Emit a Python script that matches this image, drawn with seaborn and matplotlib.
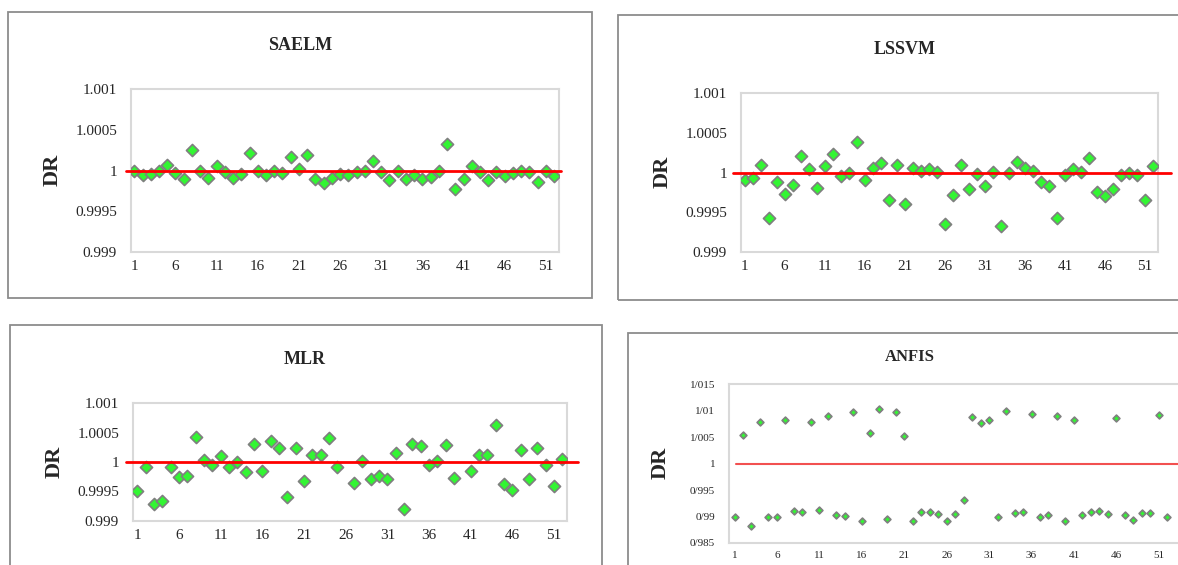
import numpy as np
import pandas as pd
import seaborn as sns
import matplotlib.pyplot as plt
from matplotlib.patches import Rectangle

# Datos (DR por muestra, 52 muestras)
samples = list(range(1, 53))

saelm = [1.0, 0.99995, 0.99996, 1.0, 1.00007, 0.99997, 0.9999, 1.00025, 1.0, 0.99991,
         1.00006, 0.99998, 0.99991, 0.99996, 1.00022, 1.0, 0.99994, 1.0, 0.99997, 1.00017,
         1.00002, 1.00019, 0.9999, 0.99985, 0.99991, 0.99996, 0.99995, 0.99998, 1.0, 1.00012,
         0.99998, 0.99988, 1.0, 0.9999, 0.99995, 0.99989, 0.99992, 1.0, 1.00033, 0.99977,
         0.9999, 1.00005, 0.99998, 0.99988, 0.99998, 0.99993, 0.99997, 0.99999, 0.99998, 0.99986,
         0.99999, 0.99993]

lssvm = [0.99991, 0.99993, 1.0001, 0.99943, 0.99988, 0.99973, 0.99984, 1.00021, 1.00005, 0.9998,
         1.00008, 1.00023, 0.99995, 1.0, 1.00038, 0.9999, 1.00006, 1.00012, 0.99966, 1.0001,
         0.99961, 1.00006, 1.00002, 1.00005, 1.00001, 0.99935, 0.99972, 1.0001, 0.99979, 0.99998,
         0.99983, 1.00001, 0.99933, 0.99999, 1.00013, 1.00006, 1.00002, 0.99988, 0.99983, 0.99943,
         0.99997, 1.00005, 1.00001, 1.00018, 0.99975, 0.99971, 0.99979, 0.99997, 1.0, 0.99997,
         0.99966, 1.00008]

mlr = [0.99951, 0.99991, 0.99929, 0.99934, 0.99992, 0.99974, 0.99977, 1.00042, 1.00004, 0.99995,
       1.00011, 0.99991, 1.0, 0.99983, 1.00031, 0.99985, 1.00035, 1.00024, 0.9994, 1.00023,
       0.99967, 1.00012, 1.00012, 1.0004, 0.99991, np.nan, 0.99965, 1.00001, 0.99972, 0.99977,
       0.99971, 1.00015, 0.9992, 1.0003, 1.00027, 0.99995, 1.00001, 1.00028, 0.99973, np.nan,
       0.99984, 1.00012, 1.00012, 1.00062, 0.99962, 0.99953, 1.0002, 0.99971, 1.00023, 0.99995,
       0.9996, 1.00005]

anfis = [0.98991, 1.00536, 0.9882, 1.00776, 0.98991, 0.98991, 1.00826, 0.99098, 0.99085, 1.00789,
         0.99129, 1.00896, 0.99022, 0.9901, 1.00978, 0.98915, 1.00568, 1.01028, 0.98959, 1.00965,
         1.00524, 0.98909, 0.99085, 0.99085, 0.99041, 0.98909, 0.99054, 0.99319, 1.00877, 1.00763,
         1.0082, 0.98991, 1.0099, 0.9906, 0.99085, 1.0094, 0.98997, 0.99035, 1.0089, 0.98915,
         1.00814, 0.99022, 0.99085, 0.99098, 0.99041, 1.00866, 0.99034, 0.98933, 0.99071, 0.99071,
         1.00916, 0.98996]

x_ticks = [1, 6, 11, 16, 21, 26, 31, 36, 41, 46, 51]
y_ticks_small = [0.999, 0.9995, 1.0, 1.0005, 1.001]
y_labels_small = ['0.999', '0.9995', '1', '1.0005', '1.001']
y_ticks_anfis = [0.985, 0.99, 0.995, 1.0, 1.005, 1.01, 1.015]
y_labels_anfis = ['0/985', '0/99', '0/995', '1', '1/005', '1/01', '1/015']

W, H = 1178, 565
fig = plt.figure(figsize=(W / 100, H / 100), dpi=100)
sns.set_style('white')
plt.rcParams['font.family'] = ['Liberation Serif', 'DejaVu Serif']


def px_rect(x0, y0, x1, y1):
    # convertir pixeles (origen arriba-izquierda) a fracciones de figura
    return [x0 / W, 1 - y1 / H, (x1 - x0) / W, (y1 - y0) / H]


# paneles: nombre, datos, caja del grafico, marco, titulo, DR, limites
panels = [
    dict(name='SAELM', vals=saelm, box=(131, 89, 559, 252), frame=(8, 12, 592, 298),
         title=(300, 46), dr=(53, 170), xlim=(0.6, 52.6), ylim=(0.999, 1.001),
         yt=y_ticks_small, yl=y_labels_small, s=38, fs=11, line=(-0.012, 1.004),
         lc='#ff0000', lw=2.0),
    dict(name='LSSVM', vals=lssvm, box=(741, 93, 1158, 252), frame=(618, 15, 1182, 300),
         title=(905, 50), dr=(663, 172), xlim=(0.55, 52.6), ylim=(0.999, 1.001),
         yt=y_ticks_small, yl=y_labels_small, s=38, fs=11, line=(-0.02, 1.03),
         lc='#ff0000', lw=2.0),
    dict(name='MLR', vals=mlr, box=(133, 403, 567, 521), frame=(10, 325, 602, 570),
         title=(305, 360), dr=(55, 462), xlim=(0.5, 52.55), ylim=(0.999, 1.001),
         yt=y_ticks_small, yl=y_labels_small, s=38, fs=11, line=(-0.015, 1.026),
         lc='#ff0000', lw=2.0),
    dict(name='ANFIS', vals=anfis, box=(729, 384, 1180, 543), frame=(628, 333, 1182, 570),
         title=(910, 357), dr=(661, 463), xlim=(0.35, 53.5), ylim=(0.985, 1.015),
         yt=y_ticks_anfis, yl=y_labels_anfis, s=12, fs=8, line=(0.016, 1.0),
         lc='#f25050', lw=1.5),
]

for p in panels:
    df = pd.DataFrame({'Sample': samples, 'DR': p['vals']})
    ax = fig.add_axes(px_rect(*p['box']))
    sns.scatterplot(data=df, x='Sample', y='DR', marker='D', s=p['s'],
                    color='#33f533', edgecolor='#7f7f7f', linewidth=1.2,
                    ax=ax, zorder=3)
    ax.axhline(1.0, xmin=p['line'][0], xmax=p['line'][1], color=p['lc'],
               lw=p['lw'], clip_on=False, zorder=4)

    ax.set_xlim(*p['xlim'])
    ax.set_ylim(*p['ylim'])
    ax.set_xticks(x_ticks)
    ax.set_xticklabels([str(t) for t in x_ticks], fontsize=p['fs'])
    ax.set_yticks(p['yt'])
    ax.set_yticklabels(p['yl'], fontsize=p['fs'])
    ax.tick_params(axis='x', length=0, pad=6)
    ax.tick_params(axis='y', length=0, pad=10)
    ax.set_xlabel('')
    ax.set_ylabel('')
    for sp in ax.spines.values():
        sp.set_color('#d9d9d9')
        sp.set_linewidth(1.5)

    # marco gris del panel
    x0, y0, x1, y1 = p['frame']
    fig.patches.append(Rectangle((x0 / W, 1 - y1 / H), (x1 - x0) / W, (y1 - y0) / H,
                                 transform=fig.transFigure, fill=False,
                                 edgecolor='#8c8c8c', linewidth=1.3))

    fig.text(p['title'][0] / W, 1 - p['title'][1] / H, p['name'], ha='center',
             va='center', fontsize=13 if p['name'] != 'ANFIS' else 12, fontweight='bold')
    fig.text(p['dr'][0] / W, 1 - p['dr'][1] / H, 'DR', ha='center', va='center',
             rotation=90, fontsize=16, fontweight='bold')

fig.savefig('out.png', dpi=100, facecolor='white')
